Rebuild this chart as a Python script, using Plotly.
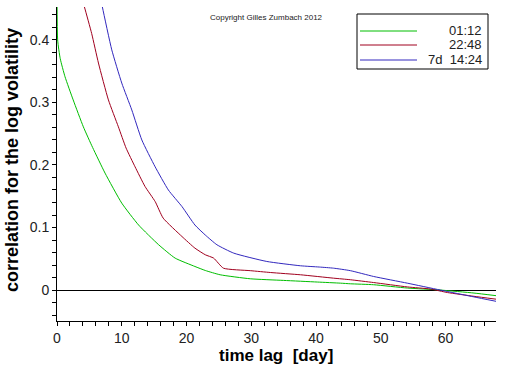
import plotly.graph_objects as go

# ---- data ----
green_x = [0, 0.1, 0.5, 1.24, 2.5, 4.07, 5.5, 7.42, 10.0, 12.6, 15.7, 18.25, 21.3, 22.9,
           25.2, 29.85, 35.0, 40.2, 43.8, 45.3, 48.9, 54.1, 59.2, 64.4, 67.8]
green_y = [0.62, 0.40, 0.37, 0.341, 0.304, 0.261, 0.228, 0.187, 0.139, 0.104, 0.0724, 0.051,
           0.0377, 0.0313, 0.0244, 0.018, 0.0154, 0.0128, 0.011, 0.010, 0.0085, 0.0032, 0.0,
           -0.0048, -0.009]

red_x = [3.0, 4.23, 5.36, 6.4, 7.94, 9.48, 10.67, 12.06, 13.6, 15.16, 16.4, 19.3, 21.3, 22.9,
         24.2, 25.7, 29.85, 33.0, 37.6, 42.7, 45.3, 48.9, 54.1, 57.7, 60.3, 64.4, 67.8]
red_y = [0.50, 0.453, 0.41, 0.363, 0.304, 0.261, 0.227, 0.197, 0.1655, 0.1415, 0.115, 0.0856,
         0.067, 0.0564, 0.051, 0.035, 0.031, 0.028, 0.0244, 0.019, 0.0165, 0.012, 0.005,
         0.0016, -0.004, -0.010, -0.0146]

blue_x = [5.5, 7.0, 8.46, 10.0, 11.55, 13.1, 15.16, 17.2, 19.3, 21.3, 22.9, 24.7, 27.3, 32.4,
          37.6, 40.5, 42.7, 45.3, 48.9, 54.1, 59.2, 64.4, 67.8]
blue_y = [0.53, 0.453, 0.384, 0.331, 0.288, 0.240, 0.197, 0.160, 0.1335, 0.104, 0.088, 0.0724,
          0.059, 0.0457, 0.0388, 0.0368, 0.035, 0.031, 0.0217, 0.011, 0.0, -0.011, -0.018]

series_names = ["01:12", "22:48", "7d\u00a0 14:24"]
series_colors = ["rgb(0,190,0)", "rgb(160,0,30)", "rgb(50,40,190)"]
x_ticks = [0, 10, 20, 30, 40, 50, 60]
y_ticks = [0, 0.1, 0.2, 0.3, 0.4]
y_tick_text = ["0", "0.1", "0.2", "0.3", "0.4"]

FONT = "Liberation Sans, Arial, sans-serif"

fig = go.Figure()
for xs, ys, name, col in zip([green_x, red_x, blue_x], [green_y, red_y, blue_y],
                             series_names, series_colors):
    fig.add_trace(go.Scatter(x=xs, y=ys, mode="lines", name=name,
                             line=dict(color=col, width=1, shape="spline", smoothing=0.5),
                             showlegend=False))

W, H = 512, 366
ml, mr, mt, mb = 57, 16, 7, 45
pw, ph = W - ml - mr, H - mt - mb

def px(x):
    return (x - ml) / pw

def py(y):
    return (H - mb - y) / ph

shapes = [dict(type="rect", xref="paper", yref="paper", x0=px(357), x1=px(488),
               y0=py(69), y1=py(14), line=dict(color="black", width=1),
               fillcolor="white", layer="above")]
annotations = []
for i, (name, col) in enumerate(zip(series_names, series_colors)):
    yy = [31, 45, 60][i]
    shapes.append(dict(type="line", xref="paper", yref="paper", x0=px(360), x1=px(417),
                       y0=py(yy), y1=py(yy), line=dict(color=col, width=1), layer="above"))
    annotations.append(dict(x=px(484), y=py(yy), xref="paper", yref="paper", text=name,
                            showarrow=False, xanchor="right", yanchor="middle",
                            font=dict(family=FONT, size=13, color="#222")))

annotations.append(dict(x=px(266), y=py(17), xref="paper", yref="paper",
                        text="Copyright Gilles Zumbach 2012", showarrow=False,
                        xanchor="center", yanchor="middle",
                        font=dict(family=FONT, size=8, color="#222")))
annotations.append(dict(x=px(276), y=py(355), xref="paper", yref="paper",
                        text="time lag\u00a0 [day]", showarrow=False,
                        xanchor="center", yanchor="middle",
                        font=dict(family=FONT, size=17, color="black", weight="bold")))
annotations.append(dict(x=px(12), y=py(160), xref="paper", yref="paper",
                        text="correlation for the log volatility", showarrow=False,
                        textangle=-90, xanchor="center", yanchor="middle",
                        font=dict(family=FONT, size=18, color="black", weight="bold")))

fig.update_layout(
    width=W, height=H,
    margin=dict(l=ml, r=mr, t=mt, b=mb, pad=0),
    paper_bgcolor="white", plot_bgcolor="white",
    shapes=shapes, annotations=annotations,
    xaxis=dict(range=[0, 67.8], tickvals=x_ticks, ticks="outside", ticklen=4,
               tickcolor="black", showline=True, linecolor="black", linewidth=1,
               showgrid=False, zeroline=False, automargin=False,
               tickfont=dict(family=FONT, size=14, color="#222"),
               minor=dict(dtick=2, ticks="outside", ticklen=4, tickcolor="black",
                          showgrid=False)),
    yaxis=dict(range=[-0.0495, 0.4526], tickvals=y_ticks, ticktext=y_tick_text,
               ticks="outside", ticklen=4, tickcolor="black", showline=True,
               linecolor="black", linewidth=1, showgrid=False, automargin=False,
               zeroline=True, zerolinecolor="black", zerolinewidth=1,
               tickfont=dict(family=FONT, size=14, color="#222"),
               minor=dict(dtick=0.02, ticks="outside", ticklen=4, tickcolor="black",
                          showgrid=False)),
)

fig.write_html("out.html", config={"displayModeBar": False},
               post_script="document.body.style.margin='0';document.body.style.overflow='hidden';")
